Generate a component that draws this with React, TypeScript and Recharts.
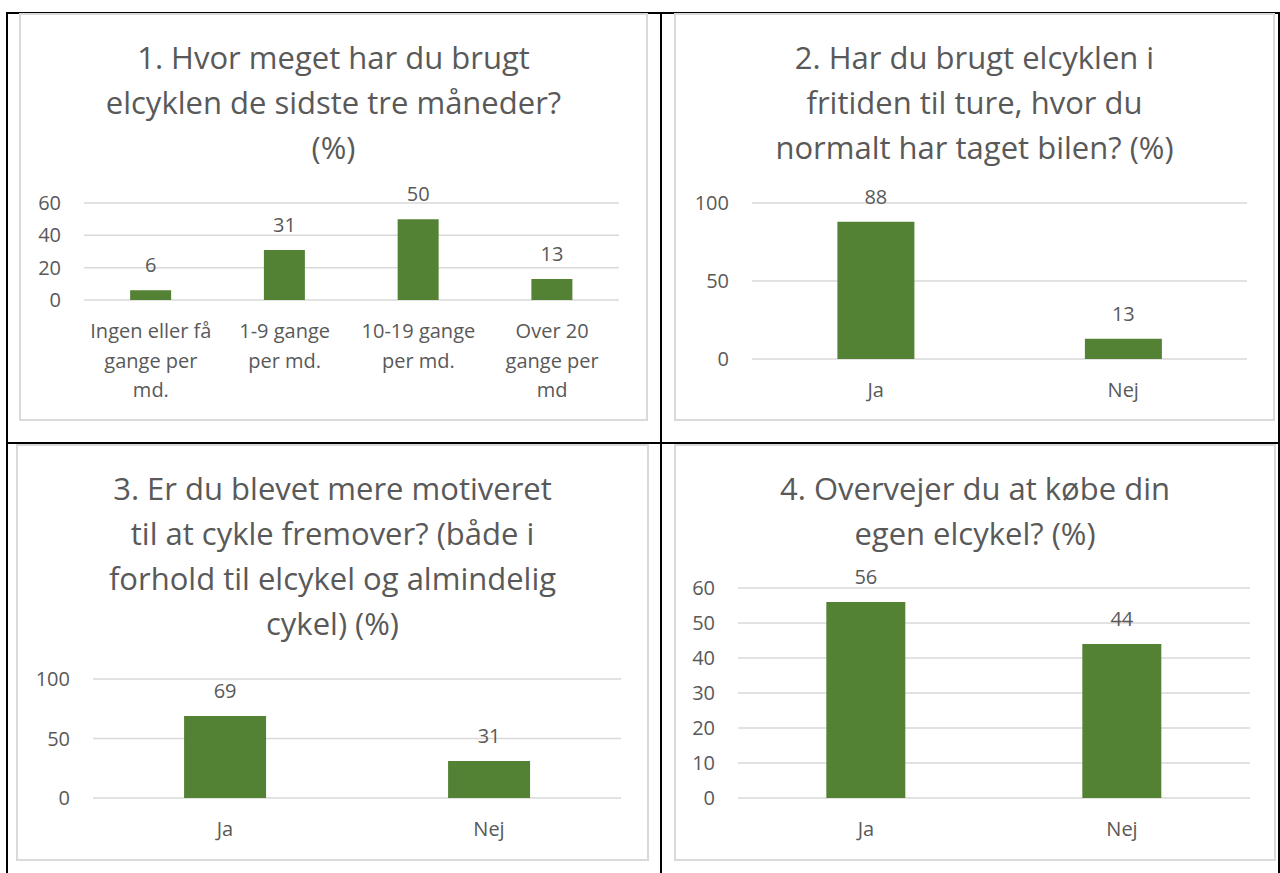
import React from "react";
import { BarChart, Bar, XAxis, YAxis, CartesianGrid, LabelList } from "recharts";

const TEXT = "#595959";
const GRID = "#d9d9d9";
const GREEN = "#548235";
const FONT = "'Open Sans', sans-serif";

// 1. usage last three months
const q1Title = ["1. Hvor meget har du brugt", "elcyklen de sidste tre måneder?", "(%)"];
const q1Categories = ["Ingen eller få\ngange per\nmd.", "1-9 gange\nper md.", "10-19 gange\nper md.", "Over 20\ngange per\nmd"];
const q1Values = [6, 31, 50, 13];
const q1Ticks = [0, 20, 40, 60];

// 2. leisure trips instead of car
const q2Title = ["2. Har du brugt elcyklen i", "fritiden til ture, hvor du", "normalt har taget bilen? (%)"];
const q2Categories = ["Ja", "Nej"];
const q2Values = [88, 13];
const q2Ticks = [0, 50, 100];

// 3. more motivated to cycle
const q3Title = ["3. Er du blevet mere motiveret", "til at cykle fremover? (både i", "forhold til elcykel og almindelig", "cykel) (%)"];
const q3Categories = ["Ja", "Nej"];
const q3Values = [69, 31];
const q3Ticks = [0, 50, 100];

// 4. buying own e-bike
const q4Title = ["4. Overvejer du at købe din", "egen elcykel? (%)"];
const q4Categories = ["Ja", "Nej"];
const q4Values = [56, 44];
const q4Ticks = [0, 10, 20, 30, 40, 50, 60];

/* eslint-disable @typescript-eslint/no-explicit-any */
function WrapTick({ x, y, payload }: any) {
  const lines = String(payload.value).split("\n");
  return (
    <text x={x} y={y} textAnchor="middle" fill={TEXT} fontSize={20} fontFamily={FONT}>
      {lines.map((l, i) => (
        <tspan key={i} x={x} dy={i === 0 ? 38 : 29.5}>{l}</tspan>
      ))}
    </text>
  );
}
/* eslint-enable @typescript-eslint/no-explicit-any */

type Box = { left: number; top: number; width: number; height: number };

function Panel({
  box, plot, title, categories, values, ticks,
}: {
  box: Box;
  plot: { left: number; right: number; top: number; bottom: number };
  title: string[];
  categories: string[];
  values: number[];
  ticks: number[];
}) {
  const data = categories.map((name, i) => ({ name, value: values[i] }));
  return (
    <>
      <div
        style={{
          position: "absolute", left: box.left, top: box.top, width: box.width, height: box.height,
          border: `2px solid ${GRID}`, boxSizing: "border-box",
        }}
      />
      <div
        style={{
          position: "absolute", left: box.left, top: box.top + 22, width: box.width,
          textAlign: "center", color: TEXT, fontFamily: FONT, fontSize: 31, lineHeight: "45px",
          whiteSpace: "nowrap",
        }}
      >
        {title.map((t) => <div key={t}>{t}</div>)}
      </div>
      <div style={{ position: "absolute", left: box.left, top: box.top }}>
        <BarChart
          width={box.width}
          height={box.height}
          data={data}
          margin={{ top: plot.top, right: plot.right, bottom: 0, left: 0 }}
          barCategoryGap="34.5%"
        >
          <CartesianGrid vertical={false} stroke={GRID} strokeWidth={1.5} />
          <XAxis
            dataKey="name"
            interval={0}
            axisLine={false}
            tickLine={false}
            tickSize={0}
            tickMargin={0}
            height={plot.bottom}
            tick={<WrapTick />}
          />
          <YAxis
            type="number"
            domain={[ticks[0], ticks[ticks.length - 1]]}
            ticks={ticks}
            interval={0}
            width={plot.left}
            axisLine={false}
            tickLine={false}
            tickSize={0}
            tickMargin={23}
            tick={{ fill: TEXT, fontSize: 20, fontFamily: FONT }}
          />
          <Bar dataKey="value" fill={GREEN} isAnimationActive={false}>
            <LabelList dataKey="value" position="top" offset={18} fill={TEXT} fontSize={20} fontFamily={FONT} />
          </Bar>
        </BarChart>
      </div>
    </>
  );
}

const line = (left: number, top: number, width: number, height: number) => (
  <div style={{ position: "absolute", left, top, width, height, background: "#000" }} />
);

export default function App() {
  return (
    <div style={{ position: "absolute", left: 0, top: 0, width: 1280, height: 873, background: "#fff", overflow: "hidden" }}>
      {line(6, 12, 1273, 2)}
      {line(6, 442, 1273, 2)}
      {line(6, 12, 2, 861)}
      {line(660, 12, 2, 861)}
      {line(1278, 12, 2, 861)}
      <Panel
        box={{ left: 19, top: 13, width: 629, height: 408 }}
        plot={{ left: 65, right: 29, top: 190, bottom: 121 }}
        title={q1Title}
        categories={q1Categories}
        values={q1Values}
        ticks={q1Ticks}
      />
      <Panel
        box={{ left: 674, top: 13, width: 601, height: 408 }}
        plot={{ left: 78, right: 28, top: 190, bottom: 62 }}
        title={q2Title}
        categories={q2Categories}
        values={q2Values}
        ticks={q2Ticks}
      />
      <Panel
        box={{ left: 16, top: 444, width: 633, height: 417 }}
        plot={{ left: 77, right: 28, top: 235, bottom: 63 }}
        title={q3Title}
        categories={q3Categories}
        values={q3Values}
        ticks={q3Ticks}
      />
      <Panel
        box={{ left: 674, top: 444, width: 602, height: 417 }}
        plot={{ left: 64, right: 26, top: 144, bottom: 63 }}
        title={q4Title}
        categories={q4Categories}
        values={q4Values}
        ticks={q4Ticks}
      />
    </div>
  );
}
